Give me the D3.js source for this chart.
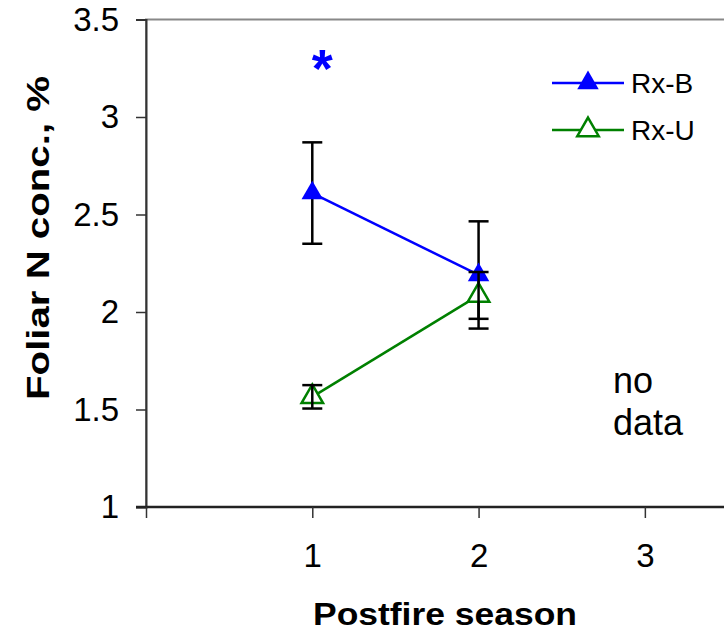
<!DOCTYPE html>
<html>
<head>
<meta charset="utf-8">
<script src="https://cdn.jsdelivr.net/npm/d3@7"></script>
<style>
  body { margin: 0; background: #fff; }
  text { font-family: "Liberation Sans", Arial, sans-serif; }
</style>
</head>
<body>
<script>
// values
const seasons = [1, 2];
const xTickValues = [0, 1, 2, 3];
const yTickValues = [1, 1.5, 2, 2.5, 3, 3.5];
const rxB = [2.61, 2.19];
const rxBErr = [0.26, 0.275];
const rxU = [1.565, 2.085];
const rxUErr = [0.06, 0.12];
const seriesNames = ["Rx-B", "Rx-U"];

var width = 724, height = 632;
var svg = d3.select("body").append("svg")
  .attr("width", width)
  .attr("height", height);

var x = d3.scaleLinear().domain([0, 3.5]).range([146, 728]);
var y = d3.scaleLinear().domain([1, 3.5]).range([507, 19.5]);

// plot frame (gray border, right side is off the picture)
svg.append("rect")
  .attr("x", x(0)).attr("y", y(3.5))
  .attr("width", x(3.5) - x(0)).attr("height", y(1) - y(3.5))
  .attr("fill", "none")
  .attr("stroke", "#888")
  .attr("stroke-width", 2);

// y axis
var yAxis = svg.append("g")
  .attr("transform", "translate(" + x(0) + ",0)")
  .call(d3.axisLeft(y).tickValues(yTickValues).tickSize(10).tickPadding(17)
    .tickFormat(function (d) { return String(d); }));
yAxis.select(".domain").attr("stroke", "#333").attr("stroke-width", 2);
yAxis.selectAll(".tick line").attr("stroke", "#333").attr("stroke-width", 1.5);
yAxis.selectAll(".tick text")
  .attr("font-size", "33px")
  .attr("fill", "#000")
  .attr("font-family", "Liberation Sans, Arial, sans-serif");

// x axis
var xAxis = svg.append("g")
  .attr("transform", "translate(0," + y(1) + ")")
  .call(d3.axisBottom(x).tickValues(xTickValues).tickSize(11).tickPadding(26)
    .tickFormat(function (d) { return d ? String(d) : ""; }));
xAxis.select(".domain").attr("stroke", "#222").attr("stroke-width", 2.5)
  .attr("d", "M" + (x(0) - 10) + ",0H" + width);
xAxis.selectAll(".tick line").attr("stroke", "#333").attr("stroke-width", 1.5);
xAxis.selectAll(".tick text")
  .attr("font-size", "33px")
  .attr("fill", "#000")
  .attr("font-family", "Liberation Sans, Arial, sans-serif");

// axis titles
svg.append("text")
  .attr("x", 445).attr("y", 625)
  .attr("text-anchor", "middle")
  .attr("font-size", "31px")
  .attr("font-weight", "bold")
  .attr("textLength", 264)
  .attr("lengthAdjust", "spacingAndGlyphs")
  .text("Postfire season");

svg.append("text")
  .attr("transform", "translate(49,238) rotate(-90)")
  .attr("text-anchor", "middle")
  .attr("font-size", "32px")
  .attr("font-weight", "bold")
  .attr("textLength", 324)
  .attr("lengthAdjust", "spacingAndGlyphs")
  .text("Foliar N conc., %");

var triangle = d3.symbol().type(d3.symbolTriangle).size(200);
var line = d3.line()
  .x(function (d, i) { return x(seasons[i]); })
  .y(function (d) { return y(d); });

function errorBars(vals, errs) {
  var g = svg.append("g").attr("stroke", "#000").attr("stroke-width", 2.5);
  vals.forEach(function (v, i) {
    var cx = x(seasons[i]);
    g.append("line").attr("x1", cx).attr("x2", cx)
      .attr("y1", y(v + errs[i])).attr("y2", y(v - errs[i]));
    [v + errs[i], v - errs[i]].forEach(function (e) {
      g.append("line").attr("x1", cx - 10).attr("x2", cx + 10)
        .attr("y1", y(e)).attr("y2", y(e));
    });
  });
}

// Rx-B
errorBars(rxB, rxBErr);
svg.append("path").datum(rxB)
  .attr("d", line)
  .attr("fill", "none")
  .attr("stroke", "#0000ff")
  .attr("stroke-width", 2.5);
svg.selectAll("rxb_pts").data(rxB).enter().append("path")
  .attr("d", triangle)
  .attr("transform", function (d, i) { return "translate(" + x(seasons[i]) + "," + y(d) + ")"; })
  .attr("fill", "#0000ff");

// Rx-U
svg.append("path").datum(rxU)
  .attr("d", line)
  .attr("fill", "none")
  .attr("stroke", "#008000")
  .attr("stroke-width", 2.5);
svg.selectAll("rxu_pts").data(rxU).enter().append("path")
  .attr("d", triangle)
  .attr("transform", function (d, i) { return "translate(" + x(seasons[i]) + "," + y(d) + ")"; })
  .attr("fill", "#fff")
  .attr("stroke", "#008000")
  .attr("stroke-width", 2.5);
errorBars(rxU, rxUErr);

// significance star over season 1
svg.append("text")
  .attr("x", x(1) + 10).attr("y", 87)
  .attr("text-anchor", "middle")
  .attr("font-size", "54px")
  .attr("font-weight", "bold")
  .attr("fill", "#0000ff")
  .text("*");

// "no data" note for season 3
svg.append("text")
  .attr("x", 613).attr("y", 393)
  .attr("font-size", "36px")
  .text("no");
svg.append("text")
  .attr("x", 613).attr("y", 435)
  .attr("font-size", "36px")
  .text("data");

// legend
var legendColors = ["#0000ff", "#008000"];
var legendFills = ["#0000ff", "#fff"];
var legend = svg.selectAll("legend_items").data(seriesNames).enter().append("g")
  .attr("transform", function (d, i) { return "translate(552," + (83 + i * 47) + ")"; });
legend.append("line")
  .attr("x1", 0).attr("x2", 72)
  .attr("stroke", function (d, i) { return legendColors[i]; })
  .attr("stroke-width", 2.5);
legend.append("path")
  .attr("d", triangle)
  .attr("transform", "translate(36,0)")
  .attr("fill", function (d, i) { return legendFills[i]; })
  .attr("stroke", function (d, i) { return i ? legendColors[i] : "none"; })
  .attr("stroke-width", 2.5);
legend.append("text")
  .attr("x", 79).attr("y", 10)
  .attr("font-size", "28px")
  .text(function (d) { return d; });
</script>
</body>
</html>
